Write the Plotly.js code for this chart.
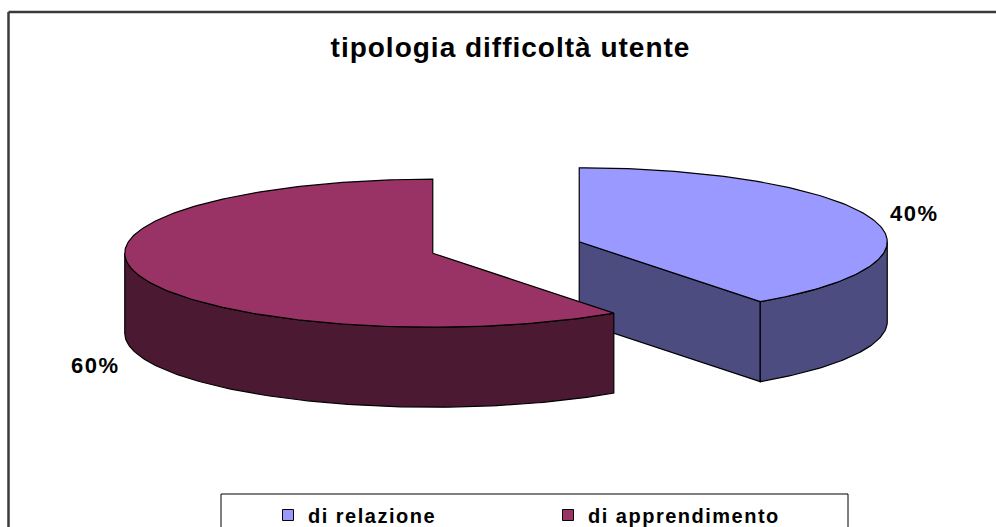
<!DOCTYPE html>
<html><head><meta charset="utf-8">
<script src="https://cdn.plot.ly/plotly-3.0.1.min.js"></script>
<style>
html,body{margin:0;padding:0;background:#fff;overflow:hidden;width:996px;height:527px;scrollbar-width:none;}
::-webkit-scrollbar{display:none;width:0;height:0;}
#chart{position:absolute;left:0;top:0;width:996px;height:527px;overflow:hidden;}
.legendtext{letter-spacing:1.5px;}
.gtitle{letter-spacing:1px;}
.annotation-text{letter-spacing:1.5px;}
</style></head><body><div id="chart"></div>
<script>
const categories = ['di relazione', 'di apprendimento'];
const values = [40, 60];
const topColors = ['#9999FF', '#993366'];
const sideColors = ['#4C4C80', '#4C1933'];
const chartTitle = 'tipologia difficoltà utente';

// geometry (pixel space of the 996x527 canvas)
const CX = 506, CY = 247.5, RX = 308, RY = 74, DEPTH = 80, EXPLODE = 0.25;
const labelPos = [[914, 213], [95, 365]];

const total = values.reduce((a, b) => a + b, 0);
const rad = d => d * Math.PI / 180;
let start = 0;
const slices = values.map((v, i) => {
  const a0 = start, a1 = start + v / total * 360; start = a1;
  const m = (a0 + a1) / 2;
  return {i, a0, a1,
    ox: CX + EXPLODE * RX * Math.sin(rad(m)),
    oy: CY - EXPLODE * RY * Math.cos(rad(m))};
});
function pt(s, a, z) { return [s.ox + RX * Math.sin(rad(a)), s.oy - RY * Math.cos(rad(a)) + z]; }
function arc(s, a0, a1, z) {
  const n = Math.max(2, Math.ceil(Math.abs(a1 - a0)));
  const out = [];
  for (let k = 0; k <= n; k++) out.push(pt(s, a0 + (a1 - a0) * k / n, z));
  return out;
}
function poly(points, color) {
  return {type: 'scatter', x: points.map(p => p[0]), y: points.map(p => p[1]),
    mode: 'lines', fill: 'toself', fillcolor: color,
    line: {color: '#000', width: 1.2}, hoverinfo: 'skip', showlegend: false};
}
const traces = [];
slices.slice().sort((a, b) => a.oy - b.oy).forEach(s => {
  const side = sideColors[s.i], top = topColors[s.i];
  // radial walls facing the viewer
  [[s.a0, s.a0 - 90], [s.a1, s.a1 + 90]].forEach(([a, nrm]) => {
    if (Math.cos(rad(nrm)) < -1e-6) {
      traces.push(poly([[s.ox, s.oy], pt(s, a, 0), pt(s, a, DEPTH), [s.ox, s.oy + DEPTH], [s.ox, s.oy]], side));
    }
  });
  // curved outer wall (front half)
  [[90, 270], [450, 630]].forEach(([w0, w1]) => {
    const lo = Math.max(s.a0, w0), hi = Math.min(s.a1, w1);
    if (hi > lo) {
      const ptsTop = arc(s, lo, hi, 0), ptsBot = arc(s, lo, hi, DEPTH).reverse();
      traces.push(poly(ptsTop.concat(ptsBot, [ptsTop[0]]), side));
    }
  });
  // top face
  traces.push(poly([[s.ox, s.oy]].concat(arc(s, s.a0, s.a1, 0), [[s.ox, s.oy]]), top));
});
categories.forEach((c, i) => {
  traces.push({type: 'scatter', x: [null], y: [null], mode: 'markers', name: c,
    marker: {symbol: 'square', size: 11, color: topColors[i], line: {color: '#000', width: 1}},
    showlegend: true, hoverinfo: 'skip'});
});

const font = 'Liberation Sans, Arial, sans-serif';
const annotations = slices.map(s => ({
  xref: 'x', yref: 'y', x: labelPos[s.i][0], y: labelPos[s.i][1],
  text: '<b>' + Math.round(values[s.i] / total * 100) + '%</b>', showarrow: false,
  xanchor: 'center', yanchor: 'middle', font: {family: font, size: 22, color: '#000'}
}));

const borderLine = (x0, y0, x1, y1, color, width) =>
  ({type: 'line', xref: 'paper', yref: 'paper', x0: x0 / 996, y0: 1 - y0 / 527, x1: x1 / 996, y1: 1 - y1 / 527,
    line: {color: color, width: width}});

const layout = {
  width: 996, height: 527,
  margin: {l: 0, r: 0, t: 0, b: 0, autoexpand: false},
  paper_bgcolor: '#fff', plot_bgcolor: '#fff',
  xaxis: {range: [0, 996], visible: false, fixedrange: true},
  yaxis: {range: [527, 0], visible: false, fixedrange: true},
  title: {text: '<b>' + chartTitle + '</b>', x: 510.5 / 996, xanchor: 'center',
    y: 1 - 47 / 527, yanchor: 'middle', font: {family: font, size: 28, color: '#000'}},
  showlegend: true,
  legend: {orientation: 'h', x: 268 / 996, xanchor: 'left', y: 1 - 495.5 / 527, yanchor: 'top',
    font: {family: font, size: 20, color: '#000', weight: 'bold'},
    entrywidth: 235, entrywidthmode: 'pixels', bgcolor: 'rgba(0,0,0,0)', borderwidth: 0,
    traceorder: 'normal', itemclick: false, itemdoubleclick: false},
  shapes: [
    borderLine(8.5, 12, 996, 12, '#3a3a3a', 2.5),
    borderLine(8.5, 12, 8.5, 527, '#3a3a3a', 2.5),
    borderLine(221, 494, 848, 494, '#000', 1),
    borderLine(221, 494, 221, 527, '#000', 1),
    borderLine(848, 494, 848, 527, '#000', 1)
  ],
  annotations: annotations
};
Plotly.newPlot('chart', traces, layout, {displayModeBar: false, staticPlot: true});
</script></body></html>
